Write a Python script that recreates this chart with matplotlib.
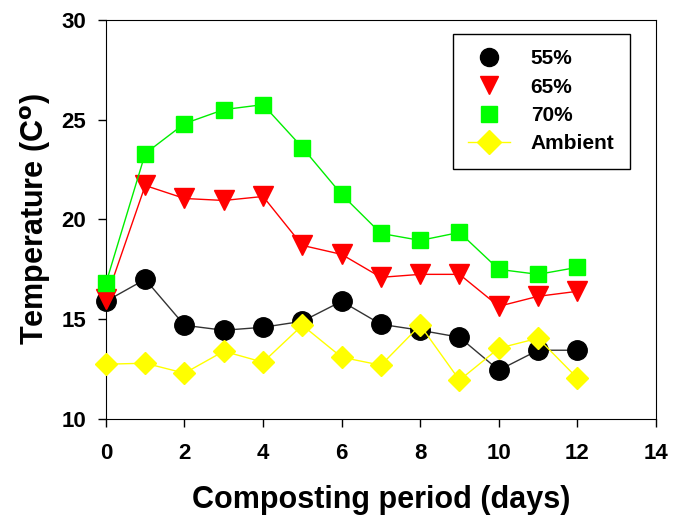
import matplotlib.pyplot as plt

days = [0, 1, 2, 3, 4, 5, 6, 7, 8, 9, 10, 11, 12]
t55 = [15.9, 17.0, 14.7, 14.45, 14.6, 14.9, 15.9, 14.75, 14.45, 14.1, 12.45, 13.45, 13.45]
t65 = [16.0, 21.7, 21.05, 20.95, 21.15, 18.7, 18.25, 17.1, 17.25, 17.25, 15.65, 16.15, 16.4]
t70 = [16.8, 23.3, 24.8, 25.5, 25.75, 23.6, 21.25, 19.3, 18.95, 19.35, 17.5, 17.25, 17.6]
ambient = [12.75, 12.8, 12.3, 13.4, 12.85, 14.7, 13.1, 12.7, 14.7, 11.95, 13.55, 14.05, 12.05]

plt.rcParams['font.family'] = ['Liberation Sans', 'DejaVu Sans']
plt.rcParams['font.weight'] = 'bold'

fig = plt.figure(figsize=(6.79, 5.2), dpi=100)
ax = fig.add_axes([0.156, 0.194, 0.81, 0.768])

ax.plot(days, t55, color='#333333', lw=1, marker='o', ms=14, mfc='black', mec='black', zorder=3)
ax.plot(days, t65, color='red', lw=1, marker='v', ms=14, mfc='red', mec='red', zorder=3)
ax.plot(days, t70, color='#00ee00', lw=1, marker='s', ms=12, mfc='#00ff00', mec='#00ff00', zorder=3)
ax.plot(days, ambient, color='yellow', lw=1, marker='D', ms=11, mfc='yellow', mec='yellow', zorder=3)

# legend: only Ambient shows its line
h1, = ax.plot([], [], ls='none', marker='o', ms=13, color='black')
h2, = ax.plot([], [], ls='none', marker='v', ms=13, color='red')
h3, = ax.plot([], [], ls='none', marker='s', ms=12, color='#00ff00')
h4, = ax.plot([], [], color='yellow', lw=1, marker='D', ms=12)
leg = ax.legend([h1, h2, h3, h4], ['55%', '65%', '70%', 'Ambient'],
                loc='upper right', bbox_to_anchor=(0.953, 0.965), borderaxespad=0,
                fancybox=False, edgecolor='black', framealpha=1, fontsize=15,
                handlelength=2.0, borderpad=0.75, labelspacing=0.45, handletextpad=1.0)
leg.get_frame().set_linewidth(1)

ax.set_xlim(0, 14)
ax.set_ylim(10, 30)
ax.set_xticks(range(0, 15, 2))
ax.set_yticks(range(10, 31, 5))
ax.tick_params(direction='out', length=6, width=1, labelsize=16)
ax.tick_params(axis='x', pad=11)
ax.tick_params(axis='y', pad=8)
for lab in ax.get_xticklabels() + ax.get_yticklabels():
    lab.set_fontweight('bold')
for ln in ax.lines:
    ln.set_clip_on(False)

ax.set_xlabel('Composting period (days)', fontsize=22, fontweight='bold', labelpad=15)
ax.set_ylabel('Temperature (C$\\mathbf{^o}$)', fontsize=22, fontweight='bold', labelpad=6)

fig.savefig('out.png', dpi=100)
